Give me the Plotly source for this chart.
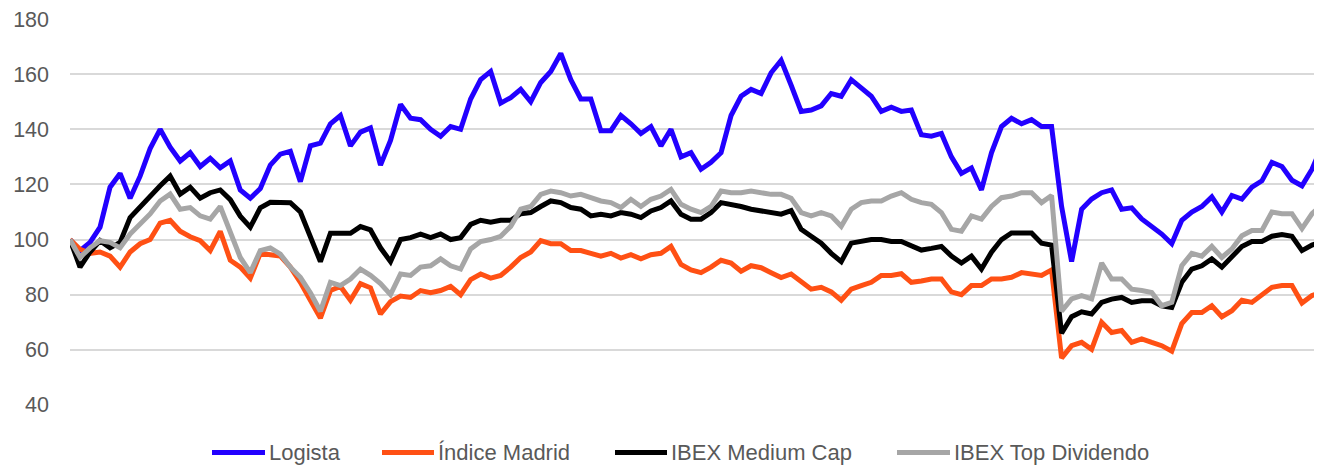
import plotly.graph_objects as go

# Trading-period index (uniform sampling of the period shown)
periods = list(range(126))

logista = [
    100, 96, 99, 104.5, 119, 124, 115, 123, 133, 140,
    133.5, 128.5, 131.5, 126.5, 129.5, 126, 128.5, 118, 115, 118.5,
    127, 131, 132, 121, 134, 135, 142, 145, 134, 139,
    140.5, 127, 136, 149, 144, 143.5, 140, 137.5, 141, 140,
    151, 158, 161, 149.5, 151.5, 154.5, 150, 157, 161, 167.5,
    158, 151, 151, 139.5, 139.5, 145, 142, 138.5, 141, 134,
    140, 130, 131.5, 125.5, 128, 131.5, 145, 152, 154.5, 153,
    160.5, 165, 156, 146.5, 147, 148.5, 153, 152, 158, 155,
    152, 146.5, 148, 146.5, 147, 138, 137.5, 138.5, 130, 124,
    126, 118, 131.5, 141, 144, 142, 143.5, 141, 141, 112,
    92, 111, 114.7, 117, 118, 111, 111.5, 107.5, 105, 102,
    98.5, 107, 110, 112, 115.5, 110, 116, 114.7, 119, 121.3,
    128, 126.5, 121.5, 119.5, 125.5, 134,
]

indice_madrid = [
    100, 96.5, 95, 95.5, 94, 90, 95.5, 98.5, 100, 106,
    107, 103, 101, 99.6, 96, 103, 92.5, 90, 86, 95,
    94.5, 94, 90, 84.5, 78, 71.5, 81.5, 83, 78, 84,
    82.5, 73, 77.5, 79.5, 79, 81.5, 80.7, 81.5, 83, 80,
    85.5, 87.5, 86, 87, 90, 93.5, 95.5, 99.6, 98.5, 98.5,
    96, 96, 95, 94, 95, 93.3, 94.5, 93, 94.5, 95,
    97.5, 91, 89, 88, 90, 92.5, 91.5, 88.5, 90.5, 89.8,
    88, 86.2, 87.5, 84.5, 82, 82.7, 81, 78, 82, 83.3,
    84.5, 87, 87, 87.6, 84.5, 85, 85.7, 85.7, 81, 80,
    83.3, 83.3, 85.7, 85.7, 86.3, 88, 87.5, 87, 89, 57,
    61.5, 62.7, 60.2, 70, 66.3, 67, 62.7, 64, 62.7, 61.5,
    59.5, 69.5, 73.5, 73.5, 76, 72, 74.2, 78, 77.2, 79.7,
    82.7, 83.3, 83.3, 77, 79.7, 80.8,
]

ibex_medium_cap = [
    100, 90, 95.5, 99.6, 97, 99, 108, 112, 115.5, 119.5,
    123, 116.5, 119, 115, 117, 118, 114.5, 108.5, 104.5, 111.5,
    113.5, 113.4, 113.4, 110, 100.8, 92, 102.3, 102.3, 102.3, 104.7,
    103.5, 97, 92, 100, 100.7, 102, 100.7, 102, 100, 100.7,
    105.5, 107, 106.3, 107, 107, 109.4, 109.8, 112, 114, 113.4,
    111.6, 111, 108.6, 109.2, 108.6, 109.8, 109.2, 108, 110.4, 111.6,
    114, 109.2, 107.4, 107.4, 109.8, 113.4, 112.8, 112, 111, 110.4,
    109.8, 109.2, 110.5, 103.7, 101.2, 98.7, 95, 92, 98.7, 99.3,
    100, 100, 99.3, 99.3, 97.5, 96.2, 96.8, 97.5, 94, 91.5,
    94, 89.3, 95.4, 100, 102.4, 102.4, 102.4, 98.7, 98, 66,
    72, 73.8, 73, 77.2, 78.4, 79, 77.2, 77.8, 77.8, 76,
    75.4, 84.5, 89.3, 90.5, 93, 90, 94, 97.5, 99.3, 99.3,
    101.2, 101.8, 101.2, 96, 98, 99.3,
]

ibex_top_dividendo = [
    100, 93.5, 97, 99.6, 99, 97, 102, 105.5, 109.3, 114,
    116.5, 111, 111.6, 108.6, 107.4, 112, 102.4, 93.5, 88, 96,
    97, 94.7, 90, 86.3, 80.7, 74, 84.5, 83.3, 85.7, 89.3,
    87, 84, 80, 87.5, 87, 90, 90.5, 93, 90.5, 89.3,
    96.6, 99.3, 100, 101.2, 104.8, 111, 112, 116.4, 117.6, 117,
    115.8, 116.4, 115.2, 114, 113.4, 111.6, 114.6, 112, 114.6, 115.8,
    118.2, 112.8, 111, 109.8, 112, 117.6, 117, 117, 117.6, 117,
    116.4, 116.4, 115, 109.8, 108.6, 109.8, 108.6, 104.8, 111, 113.4,
    114, 114, 115.8, 117, 114.6, 113.4, 112.8, 109.8, 103.7, 103,
    108.6, 107.4, 112, 115.2, 115.8, 117, 117, 113.4, 116, 74,
    78.5, 79.7, 78.5, 91.5, 85.7, 85.7, 82, 81.5, 80.8, 76,
    77.2, 90.5, 95, 94, 97.5, 93.5, 96.6, 101.4, 103.3, 103.3,
    110, 109.4, 109.4, 104, 109.4, 112.6,
]

series_names = ["Logista", "Índice Madrid", "IBEX Medium Cap", "IBEX Top Dividendo"]
series_values = [logista, indice_madrid, ibex_medium_cap, ibex_top_dividendo]
series_colors = ["#2200FF", "#FF5014", "#000000", "#A6A6A6"]

y_ticks = [40, 60, 80, 100, 120, 140, 160, 180]

# ---- layout geometry ----
# The page places the figure 8px from the top-left (default body margin),
# so the margins below are set so the plot area lands where the target has it.
PAGE_OFF = 8
W, H = 1322, 466
ML = 70 - PAGE_OFF
MT = 19 - PAGE_OFF
MR = PAGE_OFF
MB = H - (405 - PAGE_OFF)
PW, PH = W - ML - MR, H - MT - MB


def px_x(px):
    """target page pixel -> paper x"""
    return (px - PAGE_OFF - ML) / PW


def px_y(py):
    """target page pixel -> paper y"""
    return (H - MB - (py - PAGE_OFF)) / PH


fig = go.Figure()
for name, vals, col in zip(series_names, series_values, series_colors):
    fig.add_trace(go.Scatter(
        x=periods, y=vals, name=name, mode="lines",
        line=dict(color=col, width=5),
        showlegend=False,
    ))

# Legend below the plot: long line sample followed by the series name
legend_line_px = [(212, 265), (382, 434), (615, 667), (897, 950)]
legend_y_px = 452.5
shapes = []
annotations = []
for (x0, x1), name, col in zip(legend_line_px, series_names, series_colors):
    shapes.append(dict(
        type="line", xref="paper", yref="paper",
        x0=px_x(x0), x1=px_x(x1), y0=px_y(legend_y_px), y1=px_y(legend_y_px),
        line=dict(color=col, width=5),
    ))
    annotations.append(dict(
        xref="paper", yref="paper", x=px_x(x1 + 2), y=px_y(legend_y_px),
        xanchor="left", yanchor="middle", showarrow=False, text=name,
        font=dict(size=22, color="#595959"),
    ))

fig.update_layout(
    width=W, height=H,
    margin=dict(l=ML, r=MR, t=MT, b=MB, autoexpand=False),
    paper_bgcolor="white", plot_bgcolor="white",
    font=dict(family="Liberation Sans, Arial, sans-serif", color="#595959", size=21.5),
    showlegend=False,
    shapes=shapes,
    annotations=annotations,
    xaxis=dict(
        range=[0, 125], showgrid=False, zeroline=False, showline=False,
        showticklabels=False, ticks="", automargin=False,
    ),
    yaxis=dict(
        range=[39.98, 180.02], tickvals=y_ticks, ticktext=[str(v) for v in y_ticks],
        showgrid=True, gridcolor="#D9D9D9", gridwidth=1.5,
        zeroline=False, showline=False, ticks="", ticklabelstandoff=20,
        ticklabeloverflow="allow",
        tickfont=dict(size=21.5, color="#595959"), automargin=False,
    ),
)

fig.write_html("out.html")
